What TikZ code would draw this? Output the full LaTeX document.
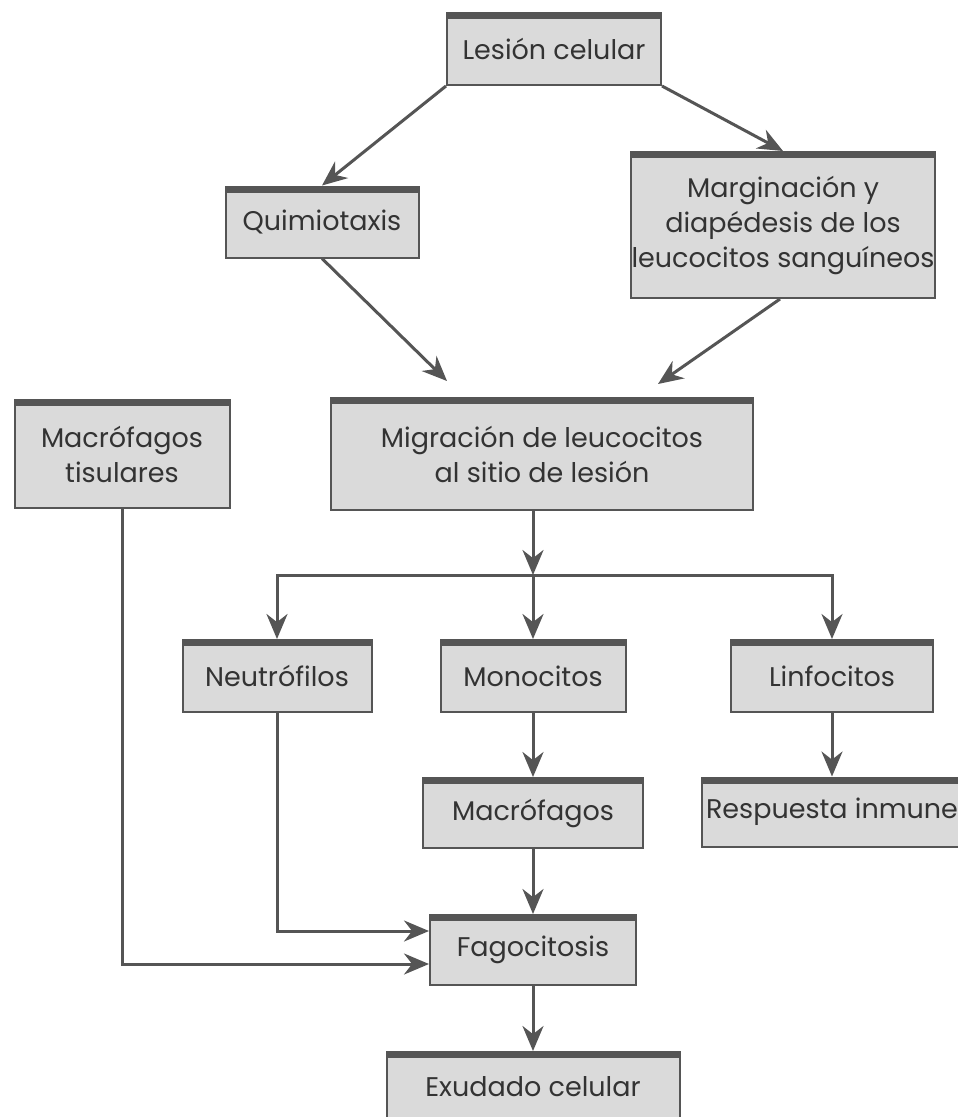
\documentclass[tikz,border=0pt]{standalone}
\usepackage{fontspec}
\setmainfont{Poppins}
\usetikzlibrary{arrows.meta}
\definecolor{boxgray}{HTML}{DADADA}
\definecolor{linegray}{HTML}{555555}
\definecolor{textgray}{HTML}{333333}

\begin{document}
\begin{tikzpicture}[x=1pt,y=-1pt,>={Stealth[length=25pt,width=21pt]},
                    flow/.style={->, draw=linegray, line width=3pt},
                    boxx/.style={rectangle, draw=linegray, fill=boxgray, line width=2pt, inner sep=0pt,
                                 text=textgray, align=center, font=\fontsize{27}{35}\selectfont,
                                 path picture={\fill[linegray] (path picture bounding box.north west)
                                   rectangle ([yshift=-6pt]path picture bounding box.north east);}}]
  \path[use as bounding box, fill=white] (0,0) rectangle (958,1117);
  \clip (0,0) rectangle (958,1117);

  \node (Lesion) [boxx, minimum width=214pt, minimum height=72pt] at (554,49) {Lesión celular};
  \node (Quimiotaxis) [boxx, minimum width=193pt, minimum height=71pt] at (322,222) {Quimiotaxis};
  \node (Marginacion) [boxx, minimum width=304pt, minimum height=146pt] at (783,225) {Marginación y\\diapédesis de los\\leucocitos sanguíneos};
  \node (Tisulares) [boxx, minimum width=215pt, minimum height=108pt] at (122,454) {Macrófagos\\tisulares};
  \node (Migracion) [boxx, minimum width=422pt, minimum height=112pt] at (542,454) {Migración de leucocitos\\al sitio de lesión};
  \node (Neutrofilos) [boxx, minimum width=189pt, minimum height=72pt] at (277,676) {Neutrófilos};
  \node (Monocitos) [boxx, minimum width=185pt, minimum height=72pt] at (533,676) {Monocitos};
  \node (Linfocitos) [boxx, minimum width=202pt, minimum height=72pt] at (832,676) {Linfocitos};
  \node (Macrofagos) [boxx, minimum width=220pt, minimum height=70pt] at (533,813) {Macrófagos};
  \node (Respuesta) [boxx, minimum width=260pt, minimum height=69pt] at (832,812) {Respuesta inmune};
  \node (Fagocitosis) [boxx, minimum width=206pt, minimum height=70pt] at (533,950) {Fagocitosis};
  \node (Exudado) [boxx, minimum width=293pt, minimum height=70pt] at (533,1087) {Exudado celular};
  \coordinate (split) at (533,575);

  \draw[flow] (Lesion.south west) -- (Quimiotaxis.north);
  \draw[flow] (Lesion.south east) -- (Marginacion.north);
  \draw[flow] (Quimiotaxis.south) -- ([xshift=-95pt,yshift=16pt]Migracion.north);
  \draw[flow] ([xshift=-3pt]Marginacion.south) -- ([xshift=116pt,yshift=13pt]Migracion.north);
  \draw[flow] (Migracion.south -| split) -- (split);
  \draw[flow] (split) -| (Neutrofilos.north);
  \draw[flow] (split) -- (Monocitos.north);
  \draw[flow] (split) -| (Linfocitos.north);
  \draw[flow] (Monocitos.south) -- (Macrofagos.north);
  \draw[flow] (Linfocitos.south) -- (Respuesta.north);
  \draw[flow] (Macrofagos.south) -- (Fagocitosis.north);
  \draw[flow] (Neutrofilos.south) |- ([yshift=19pt]Fagocitosis.west);
  \draw[flow] (Tisulares.south) |- ([yshift=-14pt]Fagocitosis.west);
  \draw[flow] (Fagocitosis.south) -- (Exudado.north);
\end{tikzpicture}
\end{document}
